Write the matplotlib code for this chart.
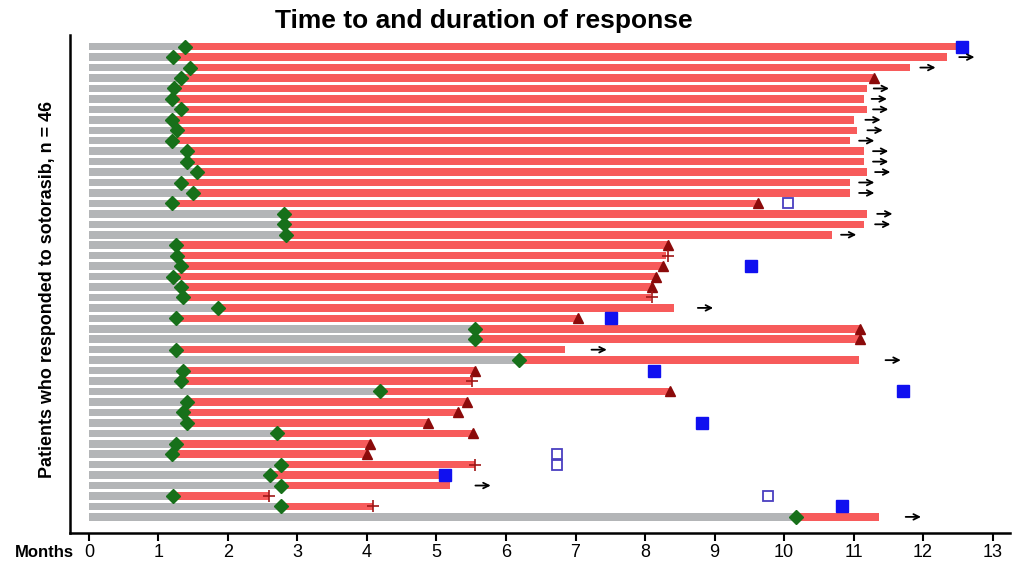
import numpy as np
import matplotlib.pyplot as plt

# patient rows, top to bottom (1..46)
patients = np.arange(1, 47)

# time to response (months) -> end of grey bar / green diamond
onset = [1.38, 1.21, 1.45, 1.32, 1.22, 1.19, 1.32, 1.19, 1.27, 1.19,
         1.41, 1.41, 1.55, 1.32, 1.49, 1.19, 2.81, 2.81, 2.84, 1.25,
         1.27, 1.32, 1.21, 1.32, 1.35, 1.85, 1.25, 5.55, 5.55, 1.25,
         6.18, 1.35, 1.32, 4.19, 1.41, 1.35, 1.41, 2.70, 1.25, 1.19,
         2.77, 2.60, 2.77, 1.21, 2.77, 10.17]

# end of response bar (months)
resp_end = [12.47, 12.34, 11.81, 11.28, 11.19, 11.15, 11.19, 11.01, 11.05, 10.95,
            11.15, 11.15, 11.19, 10.95, 10.95, 9.65, 11.19, 11.15, 10.69, 8.33,
            8.30, 8.26, 8.16, 8.10, 8.08, 8.41, 7.04, 11.10, 11.10, 6.85,
            11.08, 5.55, 5.51, 8.36, 5.44, 5.31, 4.88, 5.52, 4.05, 4.00,
            5.55, 5.12, 5.19, 2.59, 4.08, 11.37]

# disease progression
prog_rows = [4, 16, 20, 22, 23, 24, 27, 28, 29, 32, 34, 35, 36, 37, 38, 39, 40]
prog_x = [11.30, 9.62, 8.33, 8.26, 8.16, 8.10, 7.04, 11.10, 11.10, 5.55,
          8.36, 5.44, 5.31, 4.88, 5.52, 4.05, 4.00]

# censored
cens_rows = [21, 25, 33, 41, 44, 45]
cens_x = [8.33, 8.10, 5.51, 5.55, 2.59, 4.08]

# death (filled) and death after data cutoff (open)
death_rows = [1, 22, 27, 32, 34, 37, 42, 45]
death_x = [12.56, 9.53, 7.51, 8.13, 11.71, 8.82, 5.12, 10.83]
open_rows = [16, 40, 41, 44]
open_x = [10.05, 6.74, 6.74, 9.77]

# ongoing response (arrow centre)
arrow_rows = [2, 3, 5, 6, 7, 8, 9, 10, 11, 12, 13, 14, 15, 17, 18, 19, 26, 30, 31, 43, 46]
arrow_x = [12.63, 12.07, 11.40, 11.37, 11.39, 11.28, 11.31, 11.19, 11.39, 11.39,
           11.42, 11.19, 11.19, 11.45, 11.42, 10.93, 8.87, 7.34, 11.57, 5.67, 11.86]

month_ticks = list(range(0, 14))

onset = np.array(onset)
resp_end = np.array(resp_end)

fig = plt.figure(figsize=(10.14, 5.64), dpi=100)
ax = fig.add_axes([0.069, 0.055, 0.927, 0.883])

ax.barh(patients, onset, left=0, height=0.72, color='#b3b5b7', zorder=1)
ax.barh(patients, resp_end - onset, left=onset, height=0.72, color='#f75b5b', zorder=1)

ax.plot(onset, patients, 'D', color='#17701a', ms=7.5, zorder=3)
ax.plot(prog_x, prog_rows, '^', color='#8b0a0a', ms=7, zorder=3)
ax.plot(cens_x, cens_rows, '+', color='#a01818', ms=9, mew=1.2, zorder=3)
ax.plot(death_x, death_rows, 's', color='#1010f0', ms=8, zorder=3)
ax.plot(open_x, open_rows, 's', mfc='white', mec='#4a3fc0', mew=1.3, ms=7.5, zorder=3)

# arrows for ongoing responses
half = 0.11
for r, x in zip(arrow_rows, arrow_x):
    ax.annotate('', xy=(x + half, r), xytext=(x - half, r),
                arrowprops=dict(arrowstyle='->', color='black', lw=1.3,
                                mutation_scale=10, shrinkA=0, shrinkB=0))

ax.set_xlim(-0.273, 13.25)
ax.set_ylim(47.54, -0.12)
ax.set_yticks([])
ax.set_xticks(month_ticks)
ax.set_xticklabels([str(m) for m in month_ticks], family=['Liberation Sans Narrow', 'Liberation Sans'],
                   fontsize=13)
ax.tick_params(axis='x', direction='out', length=6, width=1.5, pad=2)
for s in ['top', 'right']:
    ax.spines[s].set_visible(False)
ax.spines['left'].set_linewidth(1.8)
ax.spines['bottom'].set_linewidth(1.8)

fig.text(0.477, 0.963, 'Time to and duration of response', ha='center', va='center',
         fontsize=19, fontweight='bold', family=['Liberation Sans'])
fig.text(0.047, 0.486, 'Patients who responded to sotorasib, n = 46', rotation=90,
         ha='center', va='center', fontsize=12.9, fontweight='bold', family=['Liberation Sans'])
fig.text(0.073, 0.02, 'Months', ha='right', va='center', fontsize=12, fontweight='bold',
         family=['Liberation Sans Narrow', 'Liberation Sans'])

fig.savefig('out.png', dpi=100)
